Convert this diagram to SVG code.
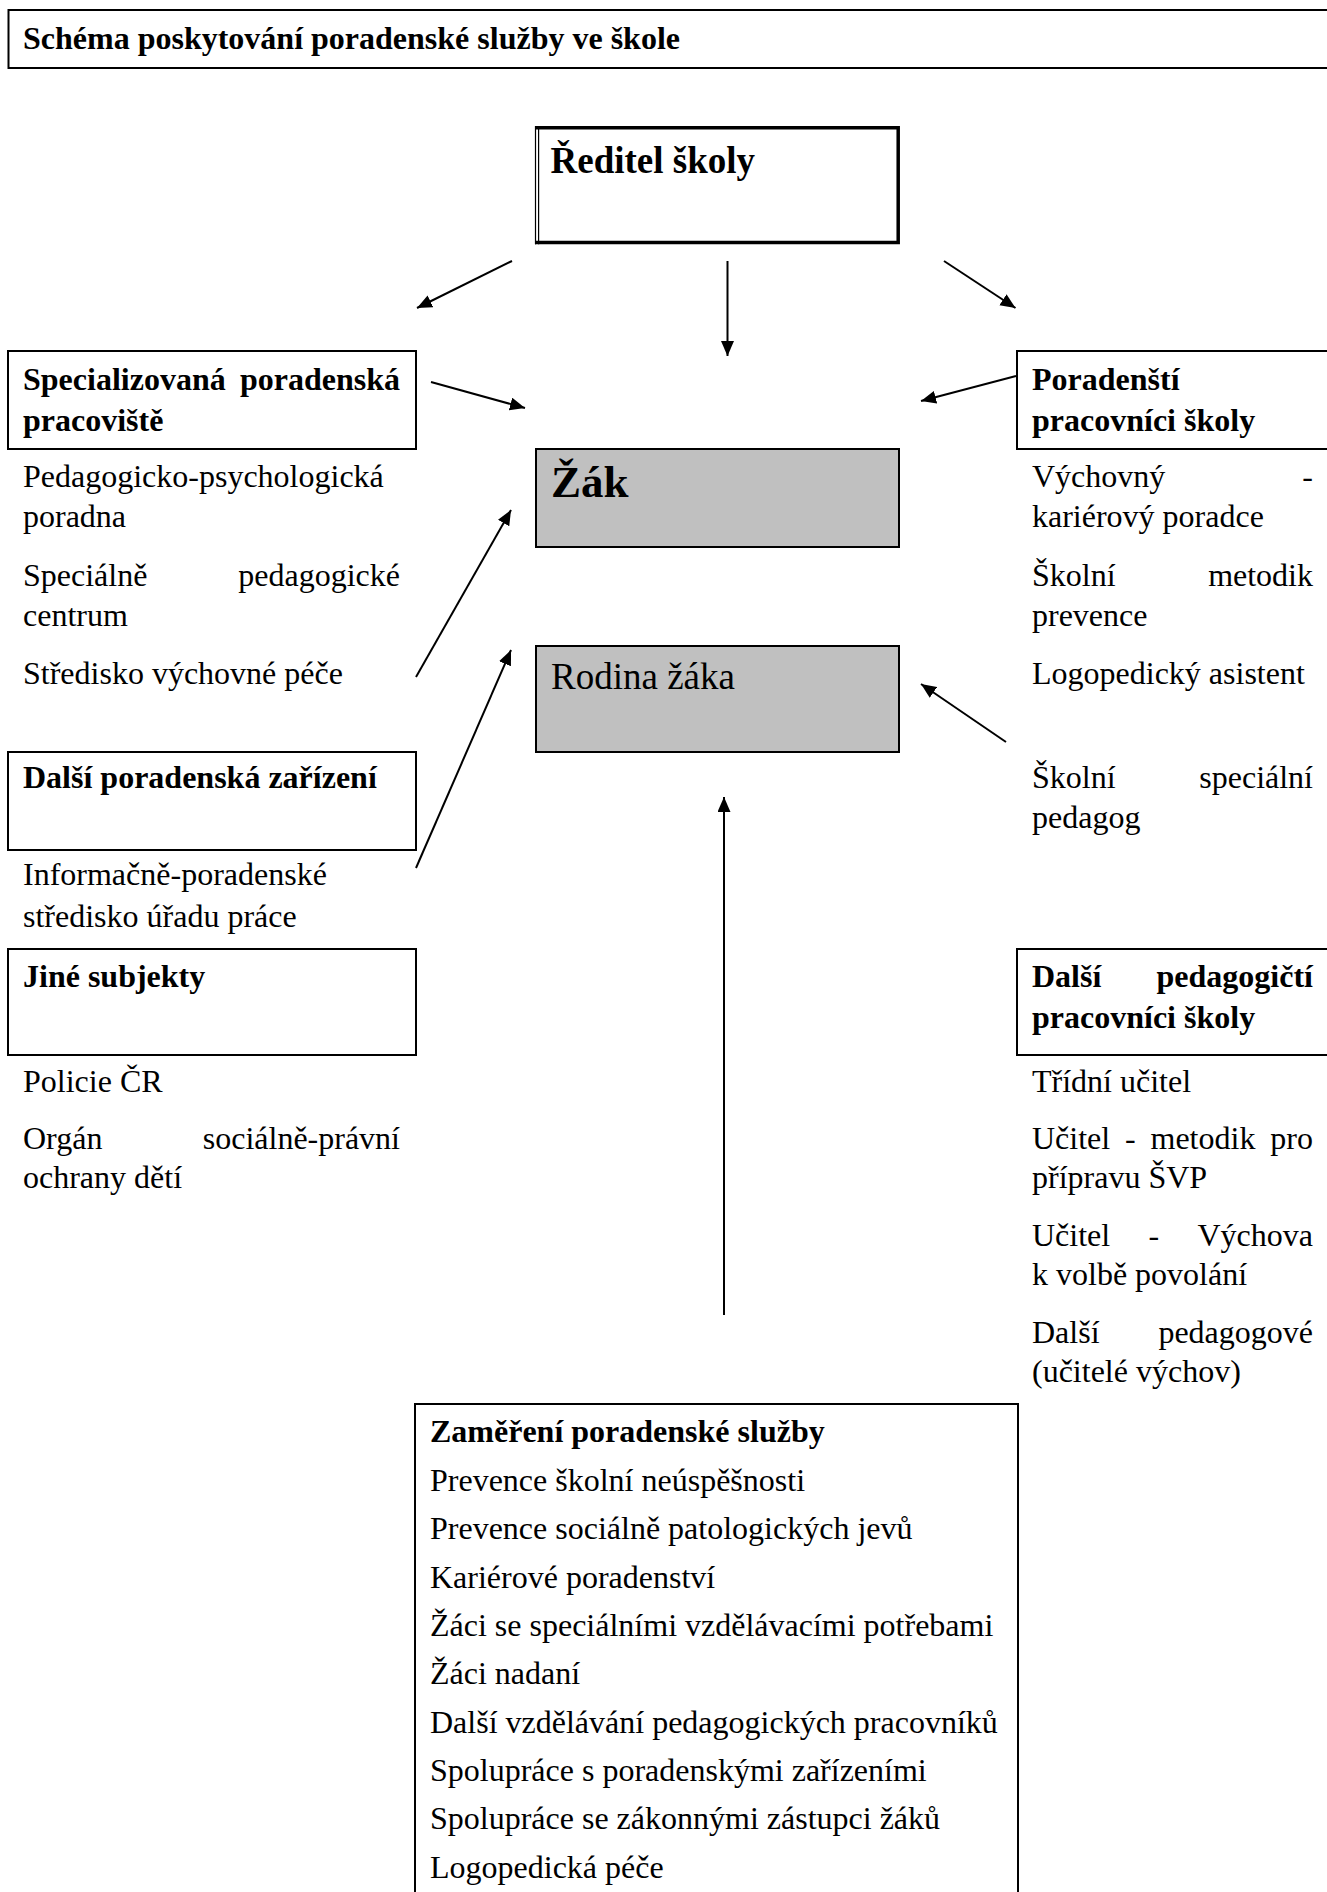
<svg xmlns="http://www.w3.org/2000/svg" width="1327" height="1892" viewBox="0 0 1327 1892">
<style>
  text { font-family: "Liberation Serif", "Times New Roman", serif; fill: #000; }
  .b { font-weight: bold; font-size: 32px; }
  .r { font-size: 32px; }
  .box { fill: #fff; stroke: #000; stroke-width: 2; }
  .gray { fill: #c0c0c0; stroke: #000; stroke-width: 2; }
  .conn { stroke: #000; stroke-width: 2; fill: none; marker-end: url(#ah); }
  .end { text-anchor: end; }
</style>
<defs>
  <marker id="ah" markerUnits="userSpaceOnUse" markerWidth="16" markerHeight="14" refX="15" refY="6.5" orient="auto">
    <path d="M0,0 L15,6.5 L0,13 Z" fill="#000"/>
  </marker>
</defs>
<rect width="1327" height="1892" fill="#fff"/>

<g id="title">
  <rect class="box" x="8.5" y="10" width="1330" height="58"/>
  <text class="b" x="23" y="49">Schéma poskytování poradenské služby ve škole</text>
</g>

<g id="reditel">
  <rect x="535" y="126" width="365" height="118" fill="#fff"/>
  <path d="M535,127.7 H898.2 V242.6 H535" fill="none" stroke="#000" stroke-width="3.5"/>
  <line x1="535.5" y1="126" x2="535.5" y2="244.3" stroke="#000" stroke-width="1.2"/>
  <line x1="538.6" y1="126" x2="538.6" y2="244.3" stroke="#000" stroke-width="1.2"/>
  <text x="550.5" y="173" style="font-weight:bold;font-size:37px">Ředitel školy</text>
</g>

<g id="specializovana">
  <rect class="box" x="8" y="351" width="408" height="98"/>
  <text class="b" x="23" y="390">Specializovaná</text>
  <text class="b end" x="400" y="390">poradenská</text>
  <text class="b" x="23" y="431">pracoviště</text>
  <text class="r" x="23" y="487">Pedagogicko-psychologická</text>
  <text class="r" x="23" y="527">poradna</text>
  <text class="r" x="23" y="586">Speciálně</text>
  <text class="r end" x="400" y="586">pedagogické</text>
  <text class="r" x="23" y="626">centrum</text>
  <text class="r" x="23" y="684">Středisko výchovné péče</text>
</g>

<g id="dalsi-zarizeni">
  <rect class="box" x="8" y="752" width="408" height="98"/>
  <text class="b" x="23" y="788">Další poradenská zařízení</text>
  <text class="r" x="23" y="885">Informačně-poradenské</text>
  <text class="r" x="23" y="927">středisko úřadu práce</text>
</g>

<g id="jine-subjekty">
  <rect class="box" x="8" y="949" width="408" height="106"/>
  <text class="b" x="23" y="987">Jiné subjekty</text>
  <text class="r" x="23" y="1092">Policie ČR</text>
  <text class="r" x="23" y="1149">Orgán</text>
  <text class="r end" x="400" y="1149">sociálně-právní</text>
  <text class="r" x="23" y="1188">ochrany dětí</text>
</g>

<g id="poradensti">
  <rect class="box" x="1017" y="351" width="330" height="98"/>
  <text class="b" x="1032" y="390">Poradenští</text>
  <text class="b" x="1032" y="431">pracovníci školy</text>
  <text class="r" x="1032" y="487">Výchovný</text>
  <text class="r end" x="1313" y="487">-</text>
  <text class="r" x="1032" y="527">kariérový poradce</text>
  <text class="r" x="1032" y="586">Školní</text>
  <text class="r end" x="1313" y="586">metodik</text>
  <text class="r" x="1032" y="626">prevence</text>
  <text class="r" x="1032" y="684">Logopedický asistent</text>
  <text class="r" x="1032" y="788">Školní</text>
  <text class="r end" x="1313" y="788">speciální</text>
  <text class="r" x="1032" y="828">pedagog</text>
</g>

<g id="dalsi-pedagogicti">
  <rect class="box" x="1017" y="949" width="330" height="106"/>
  <text class="b" x="1032" y="987">Další</text>
  <text class="b end" x="1313" y="987">pedagogičtí</text>
  <text class="b" x="1032" y="1028">pracovníci školy</text>
  <text class="r" x="1032" y="1092">Třídní učitel</text>
  <text class="r" y="1149"><tspan x="1032">Učitel</tspan><tspan x="1125">-</tspan><tspan x="1150.5">metodik</tspan></text>
  <text class="r end" x="1313" y="1149">pro</text>
  <text class="r" x="1032" y="1188">přípravu ŠVP</text>
  <text class="r" y="1246"><tspan x="1032">Učitel</tspan><tspan x="1148.4">-</tspan></text>
  <text class="r end" x="1313" y="1246">Výchova</text>
  <text class="r" x="1032" y="1285">k volbě povolání</text>
  <text class="r" x="1032" y="1343">Další</text>
  <text class="r end" x="1313" y="1343">pedagogové</text>
  <text class="r" x="1032" y="1382">(učitelé výchov)</text>
</g>

<g id="zak">
  <rect class="gray" x="536" y="449" width="363" height="98"/>
  <text x="551" y="497" style="font-weight:bold;font-size:45px">Žák</text>
</g>

<g id="rodina">
  <rect class="gray" x="536" y="646" width="363" height="106"/>
  <text x="551" y="689" style="font-size:37px">Rodina žáka</text>
</g>

<g id="zamereni">
  <rect class="box" x="415" y="1404" width="603" height="520"/>
  <text class="b" x="430" y="1442">Zaměření poradenské služby</text>
  <text class="r" x="430" y="1491">Prevence školní neúspěšnosti</text>
  <text class="r" x="430" y="1539">Prevence sociálně patologických jevů</text>
  <text class="r" x="430" y="1588">Kariérové poradenství</text>
  <text class="r" x="430" y="1636">Žáci se speciálními vzdělávacími potřebami</text>
  <text class="r" x="430" y="1684">Žáci nadaní</text>
  <text class="r" x="430" y="1733">Další vzdělávání pedagogických pracovníků</text>
  <text class="r" x="430" y="1781">Spolupráce s poradenskými zařízeními</text>
  <text class="r" x="430" y="1829">Spolupráce se zákonnými zástupci žáků</text>
  <text class="r" x="430" y="1878">Logopedická péče</text>
</g>

<g id="connectors">
  <line class="conn" x1="512" y1="261" x2="417" y2="308"/>
  <line class="conn" x1="727.5" y1="261" x2="727.5" y2="356"/>
  <line class="conn" x1="944" y1="261" x2="1015.5" y2="308"/>
  <line class="conn" x1="431" y1="382" x2="525" y2="408"/>
  <line class="conn" x1="1016" y1="376" x2="921" y2="401"/>
  <line class="conn" x1="416" y1="677" x2="511" y2="510"/>
  <line class="conn" x1="416" y1="868" x2="511" y2="650"/>
  <line class="conn" x1="1006" y1="742" x2="921" y2="684"/>
  <line class="conn" x1="724" y1="1315" x2="724" y2="797"/>
</g>
</svg>
